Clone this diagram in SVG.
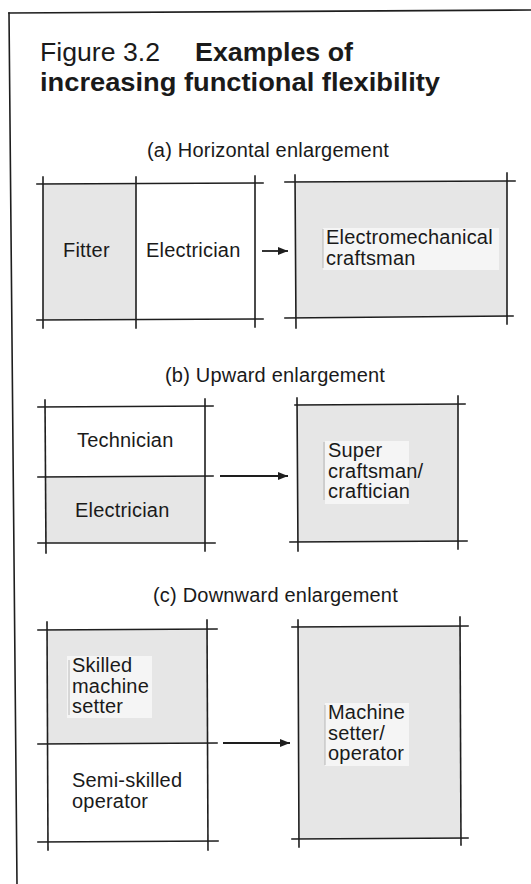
<svg xmlns="http://www.w3.org/2000/svg" width="531" height="884" viewBox="0 0 531 884">
<defs>
<style>
.ln{stroke:#1e1e1e;stroke-width:1.6;fill:none;stroke-linecap:square}
.fill{fill:#e6e6e6}
.patch{fill:#f5f5f5}
.tick{stroke:#a8a8a8;stroke-width:0.8}
.t{font-family:"Liberation Sans",Arial,Helvetica,sans-serif;font-size:20px;letter-spacing:0.2px;fill:#1a1a1a}
.title{font-family:"Liberation Sans",Arial,Helvetica,sans-serif;font-size:25.5px;fill:#1a1a1a}
.arrow{stroke:#1e1e1e;stroke-width:1.8;fill:none}
</style>
<marker id="ah" viewBox="0 0 10 8" refX="10" refY="4" markerWidth="11" markerHeight="8" markerUnits="userSpaceOnUse" orient="auto">
<path d="M0,0 L10,4 L0,8 Z" fill="#1e1e1e"/>
</marker>
</defs>
<rect width="531" height="884" fill="#ffffff"/>

<g id="frame">
<line class="ln" x1="9" y1="13" x2="531" y2="10"/>
<line class="ln" x1="9" y1="13" x2="17" y2="884"/>
</g>

<g id="title">
<text class="title" x="40" y="61" textLength="120" lengthAdjust="spacingAndGlyphs">Figure 3.2</text>
<text class="title" x="195" y="61" font-weight="bold" textLength="158" lengthAdjust="spacingAndGlyphs">Examples of</text>
<text class="title" x="40" y="91" font-weight="bold" textLength="400" lengthAdjust="spacingAndGlyphs">increasing functional flexibility</text>
</g>

<g id="subtitle-a"><text class="t" x="147" y="157">(a) Horizontal enlargement</text></g>
<g id="subtitle-b"><text class="t" x="165" y="382">(b) Upward enlargement</text></g>
<g id="subtitle-c"><text class="t" x="153" y="602">(c) Downward enlargement</text></g>

<g id="a-left">
<rect class="fill" x="43" y="184" width="93" height="136"/>
<line class="ln" x1="37" y1="184" x2="263" y2="183"/>
<line class="ln" x1="37" y1="320" x2="263" y2="319"/>
<line class="ln" x1="43" y1="177" x2="43" y2="328"/>
<line class="ln" x1="136" y1="177" x2="136" y2="328"/>
<line class="ln" x1="255" y1="176" x2="255" y2="327"/>
<text class="t" x="63" y="257">Fitter</text>
<text class="t" x="146" y="257">Electrician</text>
</g>

<g id="a-right">
<rect class="fill" x="295" y="182" width="212" height="135"/>
<rect class="patch" x="323" y="228" width="176" height="42"/>
<line class="tick" x1="323" y1="229" x2="323" y2="268"/>
<line class="ln" x1="285" y1="182" x2="515" y2="181"/>
<line class="ln" x1="285" y1="318" x2="513" y2="316"/>
<line class="ln" x1="295" y1="175" x2="296" y2="328"/>
<line class="ln" x1="507" y1="173" x2="507" y2="324"/>
<text class="t" x="326" y="244">Electromechanical</text>
<text class="t" x="326" y="265">craftsman</text>
</g>

<g id="b-left">
<rect class="fill" x="45" y="477" width="160" height="66"/>
<line class="ln" x1="38" y1="407" x2="213" y2="406"/>
<line class="ln" x1="38" y1="477" x2="213" y2="476"/>
<line class="ln" x1="38" y1="543" x2="215" y2="543"/>
<line class="ln" x1="45" y1="400" x2="46" y2="553"/>
<line class="ln" x1="205" y1="399" x2="205" y2="551"/>
<text class="t" x="77" y="447">Technician</text>
<text class="t" x="75" y="517">Electrician</text>
</g>

<g id="b-right">
<rect class="fill" x="297" y="405" width="161" height="137"/>
<rect class="patch" x="325" y="441" width="84" height="63"/>
<line class="tick" x1="324" y1="442" x2="324" y2="500"/>
<line class="ln" x1="295" y1="405" x2="465" y2="404"/>
<line class="ln" x1="290" y1="542" x2="467" y2="541"/>
<line class="ln" x1="297" y1="398" x2="298" y2="551"/>
<line class="ln" x1="458" y1="396" x2="458" y2="549"/>
<text class="t" x="328" y="457">Super</text>
<text class="t" x="328" y="478">craftsman/</text>
<text class="t" x="328" y="498">craftician</text>
</g>

<g id="c-left">
<rect class="fill" x="47" y="630" width="160" height="114"/>
<rect class="patch" x="67" y="656" width="85" height="62"/>
<line class="tick" x1="69" y1="660" x2="69" y2="715"/>
<line class="ln" x1="38" y1="630" x2="217" y2="629"/>
<line class="ln" x1="38" y1="744" x2="217" y2="743"/>
<line class="ln" x1="38" y1="842" x2="218" y2="841"/>
<line class="ln" x1="47" y1="622" x2="48" y2="850"/>
<line class="ln" x1="207" y1="620" x2="208" y2="850"/>
<text class="t" x="72" y="672">Skilled</text>
<text class="t" x="72" y="693">machine</text>
<text class="t" x="72" y="713">setter</text>
<text class="t" x="72" y="787">Semi-skilled</text>
<text class="t" x="72" y="808">operator</text>
</g>

<g id="c-right">
<rect class="fill" x="298" y="627" width="162" height="211"/>
<rect class="patch" x="325" y="703" width="84" height="63"/>
<line class="tick" x1="325" y1="705" x2="325" y2="765"/>
<line class="ln" x1="292" y1="627" x2="468" y2="626"/>
<line class="ln" x1="292" y1="839" x2="468" y2="838"/>
<line class="ln" x1="298" y1="620" x2="299" y2="847"/>
<line class="ln" x1="460" y1="617" x2="461" y2="845"/>
<text class="t" x="328" y="719">Machine</text>
<text class="t" x="328" y="740">setter/</text>
<text class="t" x="328" y="760">operator</text>
</g>

<g id="connectors">
<line class="arrow" x1="262" y1="251" x2="288" y2="251" marker-end="url(#ah)"/>
<line class="arrow" x1="220" y1="476" x2="288" y2="476" marker-end="url(#ah)"/>
<line class="arrow" x1="223" y1="743" x2="290" y2="743" marker-end="url(#ah)"/>
</g>
</svg>
